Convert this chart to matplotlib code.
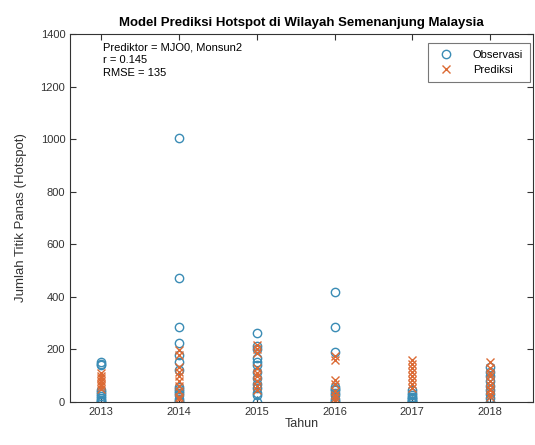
import matplotlib
matplotlib.use('Agg')
import matplotlib.pyplot as plt

plt.rcParams['font.family'] = ['Liberation Sans', 'DejaVu Sans']

years = [2013, 2014, 2015, 2016, 2017, 2018]

obs_2013 = [153, 145, 140, 45, 38, 30, 22, 15, 8, 3, 0]
obs_2014 = [1005, 470, 287, 226, 179, 153, 120, 58, 48, 40, 35, 25, 13, 5, 0]
obs_2015 = [261, 212, 200, 166, 153, 140, 115, 90, 70, 55, 36, 25, 0]
obs_2016 = [417, 285, 191, 58, 50, 45, 35, 25, 10, 5, 0]
obs_2017 = [45, 35, 27, 20, 15, 10, 5, 2, 0]
obs_2018 = [134, 115, 100, 80, 60, 45, 30, 15, 0]

# predicted counts per year
pred_2013 = [110, 100, 90, 80, 70, 60, 50]
pred_2014 = [198, 180, 134, 115, 100, 80, 60, 40, 20, 10]
pred_2015 = [217, 200, 185, 128, 110, 100, 81, 60, 45]
pred_2016 = [175, 160, 84, 70, 40, 27, 15, 5]
pred_2017 = [160, 145, 130, 115, 100, 84, 70, 55]
pred_2018 = [153, 130, 110, 100, 81, 63, 50, 44, 30, 20]

observed = [obs_2013, obs_2014, obs_2015, obs_2016, obs_2017, obs_2018]
predicted = [pred_2013, pred_2014, pred_2015, pred_2016, pred_2017, pred_2018]

yticks = [0, 200, 400, 600, 800, 1000, 1200, 1400]

obs_color = '#3a8cb5'
pred_color = '#dc6a34'

fig = plt.figure(figsize=(5.35, 4.45), dpi=100)
ax = fig.add_axes([0.131, 0.0966, 0.865, 0.827])

ox, oy, px, py = [], [], [], []
for yr, vals in zip(years, observed):
    ox += [yr] * len(vals)
    oy += vals
for yr, vals in zip(years, predicted):
    px += [yr] * len(vals)
    py += vals

ax.plot(ox, oy, 'o', linestyle='none', markersize=6, markerfacecolor='none',
        markeredgecolor=obs_color, markeredgewidth=1.0, label='Observasi')
ax.plot(px, py, 'x', linestyle='none', markersize=5.5,
        color=pred_color, markeredgewidth=1.0, label='Prediksi')

ax.set_xlim(2012.6, 2018.55)
ax.set_ylim(0, 1400)
ax.set_xticks(years)
ax.set_yticks(yticks)
ax.tick_params(direction='in', length=4, labelsize=8, colors='#333333',
               top=True, right=True)
for tl in ax.get_xticklabels() + ax.get_yticklabels():
    tl.set_color('#333333')
for s in ax.spines.values():
    s.set_color('#333333')
    s.set_linewidth(0.8)

ax.set_title('Model Prediksi Hotspot di Wilayah Semenanjung Malaysia',
             fontsize=9.5, fontweight='bold', pad=6)
ax.set_xlabel('Tahun', fontsize=9, labelpad=1, color='#333333')
ax.set_ylabel('Jumlah Titik Panas (Hotspot)', fontsize=9.5, labelpad=10,
              color='#333333')

ax.text(0.072, 0.977, 'Prediktor = MJO0, Monsun2\nr = 0.145\nRMSE = 135',
        transform=ax.transAxes, va='top', ha='left', fontsize=8,
        linespacing=1.35)

leg = ax.legend(loc='upper right', bbox_to_anchor=(0.993, 0.975), fontsize=8,
                frameon=True, fancybox=False, edgecolor='#555555',
                borderpad=0.6, handletextpad=1.4, labelspacing=0.45,
                borderaxespad=0.0)
leg.get_frame().set_linewidth(0.8)

fig.savefig('out.png', dpi=100)
